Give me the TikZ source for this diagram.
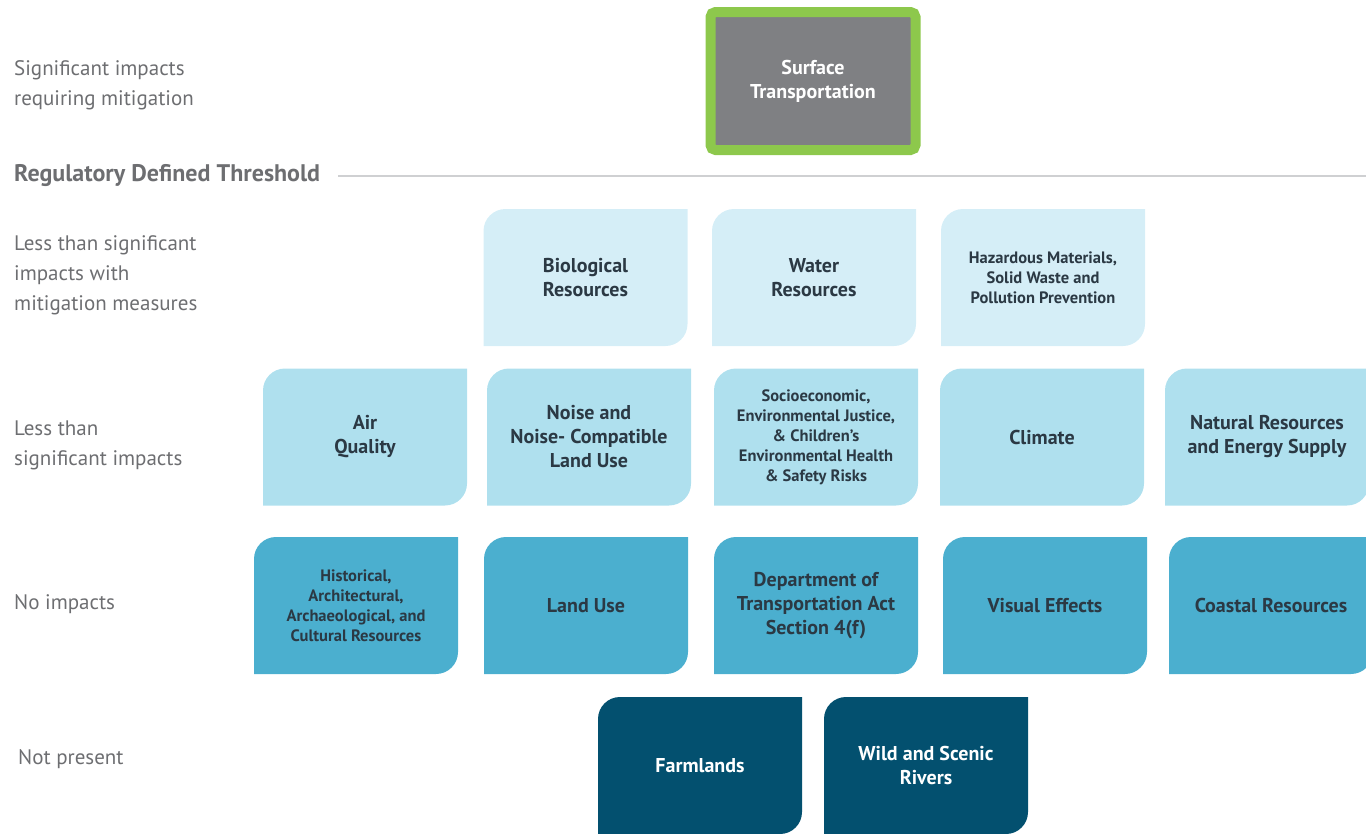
\documentclass[tikz,border=0pt]{standalone}
\usepackage{fontspec}
\setmainfont{PT Sans}
\usepackage{tikz}

\definecolor{labelgrey}{HTML}{6D6E71}
\definecolor{rulegrey}{HTML}{CFD0D2}
\definecolor{boxgrey}{HTML}{7F8083}
\definecolor{framegreen}{HTML}{8DC84C}
\definecolor{tiletext}{HTML}{2B3944}
\definecolor{mitigated}{HTML}{D5EEF7}
\definecolor{minor}{HTML}{AFE0EE}
\definecolor{noimpact}{HTML}{4BAFCF}
\definecolor{absent}{HTML}{03506F}

\begin{document}
\begin{tikzpicture}
[
    x=1pt, y=-1pt,
    lvl/.style={anchor=west, align=left, inner sep=0pt, text=labelgrey,
        font=\fontsize{21}{30}\selectfont},
    tile/.style={minimum width=204pt, minimum height=137pt, inner sep=0pt,
        align=center, text=tiletext, font=\fontsize{20}{24}\selectfont\bfseries,
        path picture={
            \fill[#1] (path picture bounding box.south west)
                -- ([yshift=-22pt]path picture bounding box.north west)
                arc[start angle=180, end angle=90, radius=22pt]
                -- (path picture bounding box.north east)
                -- ([yshift=22pt]path picture bounding box.south east)
                arc[start angle=0, end angle=-90, radius=22pt]
                -- cycle;
        }},
    small/.style={font=\fontsize{16.5}{20}\selectfont\bfseries},
]
\clip (0,0) rectangle (1366,833);

% level labels
\node [lvl] (sig) at (14,85) {Significant impacts\\requiring mitigation};
\node [lvl, font=\fontsize{24}{28}\selectfont\bfseries] (thr) at (14,176)
    {Regulatory Defined Threshold};
\node [lvl] (mit) at (14,275) {Less than significant\\impacts with\\mitigation measures};
\node [lvl] (less) at (14,445) {Less than\\significant impacts};
\node [lvl] (none) at (14,604) {No impacts};
\node [lvl] (abs) at (18,759) {Not present};

\coordinate (edge) at (1366,176);
\draw [rulegrey, line width=2.5pt] ([xshift=18pt]thr.east) -- (edge);

% significant
\node [fill=boxgrey, draw=framegreen, line width=10pt, rounded corners=5pt,
    minimum width=205pt, minimum height=138pt, align=center, text=white,
    font=\fontsize{20}{24}\selectfont\bfseries] (surf) at (813,81)
    {Surface\\Transportation};

% less than significant with mitigation
\node [tile=mitigated] (bio) at (585.5,277.5) {Biological\\Resources};
\node [tile=mitigated] (water) at (814,277.5) {Water\\Resources};
\node [tile=mitigated, small] (haz) at (1043,277.5)
    {Hazardous Materials,\\Solid Waste and\\Pollution Prevention};

% less than significant
\node [tile=minor] (air) at (365,437) {Air\\Quality};
\node [tile=minor] (noise) at (589,437) {Noise and\\Noise- Compatible\\Land Use};
\node [tile=minor, small] (socio) at (816,437)
    {Socioeconomic,\\Environmental Justice,\\\& Children's\\Environmental Health\\\& Safety Risks};
\node [tile=minor] (clim) at (1042,437) {Climate};
\node [tile=minor] (natres) at (1267,437) {Natural Resources\\and Energy Supply};

% no impacts
\node [tile=noimpact, small] (hist) at (356,605.5)
    {Historical,\\Architectural,\\Archaeological, and\\Cultural Resources};
\node [tile=noimpact] (land) at (586,605.5) {Land Use};
\node [tile=noimpact] (dot) at (816,605.5)
    {Department of\\Transportation Act\\Section 4(f)};
\node [tile=noimpact] (vis) at (1045,605.5) {Visual Effects};
\node [tile=noimpact] (coast) at (1271,605.5) {Coastal Resources};

% not present
\node [tile=absent, text=white] (farm) at (700,765.5) {Farmlands};
\node [tile=absent, text=white] (rivers) at (926,765.5) {Wild and Scenic\\Rivers};
\end{tikzpicture}
\end{document}
